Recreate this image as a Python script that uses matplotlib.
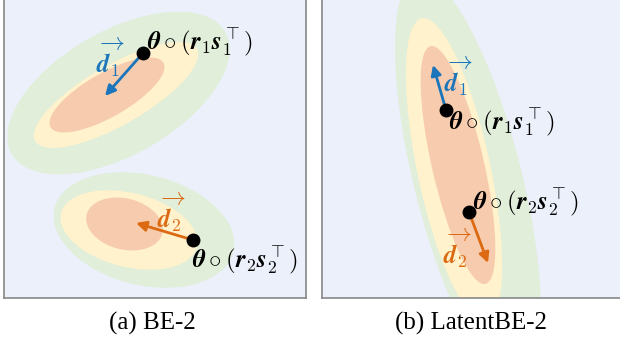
import matplotlib
matplotlib.use("Agg")
import matplotlib.pyplot as plt
from matplotlib.patches import Ellipse

plt.rcParams['mathtext.fontset'] = 'cm'

# colours
bg = '#ECF0FA'
band_colors = ['#E1EED9', '#FFF2CC', '#F7CBAD']   # outer, middle, inner
blue = '#1B75BB'
orange = '#DC6A12'

# panel (a): two tilted density blobs, (cx, cy, semi-major, semi-minor, angle) in pixel-like coords
a_upper = [(118.5, 93, 123, 62, 29.7), (116, 95, 93, 30, 29.7), (107, 95, 65, 22, 29.7)]
a_lower = [(144, 230, 92, 55, -13.8), (129, 230, 70, 37, -14), (124.5, 224, 39, 25.5, -14)]
# panel (b): one long blob
b_blob = [(468, 180, 210, 54, 14), (454, 170, 155, 36.5, 12), (458, 165, 122, 26, 13)]

# points theta (dots) and their direction arrows (start, end)
a_points = [(143, 53), (193, 240)]
a_arrow_ends = [(105, 96), (136, 223)]
a_d_labels = [(110, 57), (171, 212)]
a_theta_labels = [(147, 43), (192, 261)]

b_points = [(446, 110), (469, 212)]
b_arrow_ends = [(433, 65), (488, 263)]
b_d_labels = [(458, 76), (457, 248)]
b_theta_labels = [(449, 123), (473, 203)]

theta_texts = [r'$\boldsymbol{\theta}\circ(\boldsymbol{r}_1\boldsymbol{s}_1^{\top})$',
               r'$\boldsymbol{\theta}\circ(\boldsymbol{r}_2\boldsymbol{s}_2^{\top})$']
d_texts = [r'$\overrightarrow{\boldsymbol{d}_1}$', r'$\overrightarrow{\boldsymbol{d}_2}$']
captions = ['(a) BE-2', '(b) LatentBE-2']

W, H = 620, 343
fig = plt.figure(figsize=(W / 100, H / 100), dpi=100)


def make_axes(x0, x1, y0, y1):
    ax = fig.add_axes([x0 / W, (H - y1) / H, (x1 - x0) / W, (y1 - y0) / H])
    ax.set_xlim(x0, x1)
    ax.set_ylim(y1, y0)
    ax.set_facecolor(bg)
    ax.set_xticks([])
    ax.set_yticks([])
    for s in ax.spines.values():
        s.set_color('#888888')
        s.set_linewidth(1.2)
    return ax


def draw_blob(ax, blob, upright=False):
    # y axis is flipped, so the rotation sign is flipped too
    for (cx, cy, a, b, ang), c in zip(blob, band_colors):
        if upright:
            e = Ellipse((cx, cy), 2 * b, 2 * a, angle=-ang, color=c, lw=0)
        else:
            e = Ellipse((cx, cy), 2 * a, 2 * b, angle=-ang, color=c, lw=0)
        ax.add_patch(e)


def draw_points(ax, pts, ends, dlab, tlab):
    for i, col in enumerate([blue, orange]):
        ax.annotate('', xy=ends[i], xytext=pts[i],
                    arrowprops=dict(arrowstyle='-|>,head_width=0.3,head_length=0.6',
                                    color=col, lw=2,
                                    mutation_scale=10, shrinkA=0, shrinkB=0))
        ax.plot(*pts[i], 'o', color='black', ms=9, zorder=5)
        ax.text(*dlab[i], d_texts[i], color=col, fontsize=18,
                ha='center', va='center')
        ax.text(*tlab[i], theta_texts[i], color='black', fontsize=18,
                ha='left', va='center')


ax1 = make_axes(4, 306, -4, 298)
draw_blob(ax1, a_upper)
draw_blob(ax1, a_lower)
draw_points(ax1, a_points, a_arrow_ends, a_d_labels, a_theta_labels)

ax2 = make_axes(322, 624, -4, 298)
draw_blob(ax2, b_blob, upright=True)
draw_points(ax2, b_points, b_arrow_ends, b_d_labels, b_theta_labels)

fig.text(152 / W, 1 - 323 / H, captions[0], fontsize=18, family='Liberation Serif',
         ha='center', va='center')
fig.text(471 / W, 1 - 323 / H, captions[1], fontsize=18, family='Liberation Serif',
         ha='center', va='center')

fig.savefig('out.png', dpi=100, facecolor='white')
